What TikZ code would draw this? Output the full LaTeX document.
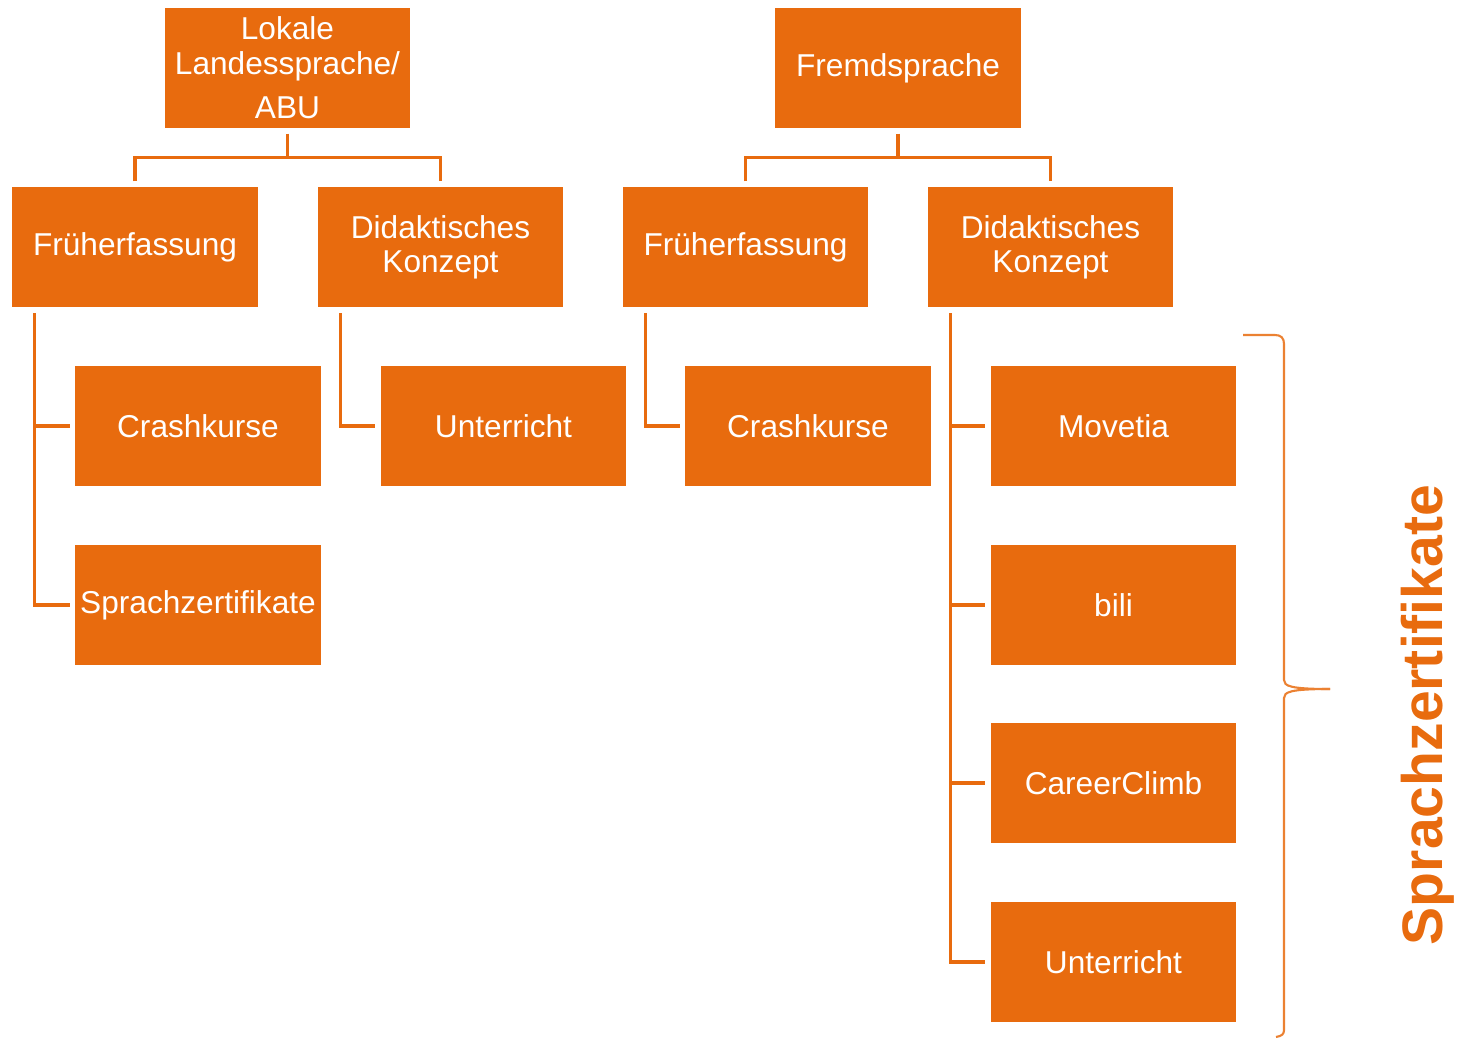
\documentclass[tikz,border=0pt]{standalone}
\usepackage{fontspec}
\setmainfont{Liberation Sans}
\usepackage{tikz}
\usetikzlibrary{calc}

\definecolor{boxorange}{RGB}{232,107,14}

\begin{document}
\begin{tikzpicture}[x=0.02cm, y=-0.02cm,
    box/.style={fill=boxorange, text=white, minimum width=4.92cm, minimum height=2.4cm,
                inner sep=0pt, align=center, font=\fontsize{18}{19.5}\selectfont},
    conn/.style={draw=boxorange, line width=1.8pt},
    brace/.style={draw=boxorange!85, line width=1.2pt}]
    % Define connector parameters (in px of the canvas, y runs downwards)
    \pgfmathsetmacro{\gap}{5}     % gap between a line and a box
    \pgfmathsetmacro{\inset}{23}  % spine inset from the left edge of a box

    % Fix the canvas
    \useasboundingbox (0,0) rectangle (1464,1038);

    % Draw top boxes
    \node[box] (lok)   at (287.5,68) {Lokale\\Landessprache/\\[6pt]ABU};
    \node[box] (fremd) at (898,68)   {Fremdsprache};

    % Draw second row
    \node[box] (lfrueh) at (135,247)    {Früherfassung};
    \node[box] (ldid)   at (440.5,247)  {Didaktisches\\Konzept};
    \node[box] (ffrueh) at (745.5,247)  {Früherfassung};
    \node[box] (fdid)   at (1050.5,247) {Didaktisches\\Konzept};

    % Draw third row and below
    \node[box] (lcrash) at (198,426)    {Crashkurse};
    \node[box] (lzert)  at (198,605)    {Sprachzertifikate};
    \node[box] (lunt)   at (503.5,426)  {Unterricht};
    \node[box] (fcrash) at (808,426)    {Crashkurse};
    \node[box] (mov)    at (1113.5,426) {Movetia};
    \node[box] (bili)   at (1113.5,605) {bili};
    \node[box] (career) at (1113.5,783) {CareerClimb};
    \node[box] (funt)   at (1113.5,962) {Unterricht};

    % Draw tree bars below the top boxes
    \coordinate (lbar) at ($(lok.south)+(0,29)$);
    \coordinate (fbar) at ($(fremd.south)+(0,29)$);
    \draw[conn] ([yshift=-3pt]lok.south) -- (lbar);
    \draw[conn] ([yshift=3pt]lfrueh.north) |- (lbar) -| ([yshift=3pt]ldid.north);
    \draw[conn] ([yshift=-3pt]fremd.south) -- (fbar);
    \draw[conn] ([yshift=3pt]ffrueh.north) |- (fbar) -| ([yshift=3pt]fdid.north);

    % Draw spines on the left of the lower boxes
    \coordinate (lsp1) at ([shift={(\inset,6)}]lfrueh.south west);
    \coordinate (lsp2) at ([shift={(\inset,6)}]ldid.south west);
    \coordinate (fsp1) at ([shift={(\inset,6)}]ffrueh.south west);
    \coordinate (fsp2) at ([shift={(\inset,6)}]fdid.south west);
    \draw[conn] (lsp1) |- ([shift={(-\gap,0)}]lzert.west);
    \draw[conn] (lsp1 |- lcrash.west) -- ([shift={(-\gap,0)}]lcrash.west);
    \draw[conn] (lsp2) |- ([shift={(-\gap,0)}]lunt.west);
    \draw[conn] (fsp1) |- ([shift={(-\gap,0)}]fcrash.west);
    \draw[conn] (fsp2) |- ([shift={(-\gap,0)}]funt.west);
    \foreach \n in {mov,bili,career}
        \draw[conn] (fsp2 |- \n.west) -- ([shift={(-\gap,0)}]\n.west);

    % Draw curly brace
    \coordinate (tip) at (1330,689);
    \draw[brace] (1243,335) -- (1275,335) .. controls (1281,335) and (1284,338) .. (1284,344)
        -- (1284,680) .. controls (1284,686) and (1290,689) .. (tip);
    \draw[brace] (tip) .. controls (1290,689) and (1284,692) .. (1284,698)
        -- (1284,1030) .. controls (1284,1034) and (1282,1036) .. (1276,1037);

    % Add side label
    \node[rotate=90, text=boxorange, font=\bfseries\fontsize{32.5}{32.5}\selectfont]
        (zert) at (1428,715) {Sprachzertifikate};
\end{tikzpicture}
\end{document}
